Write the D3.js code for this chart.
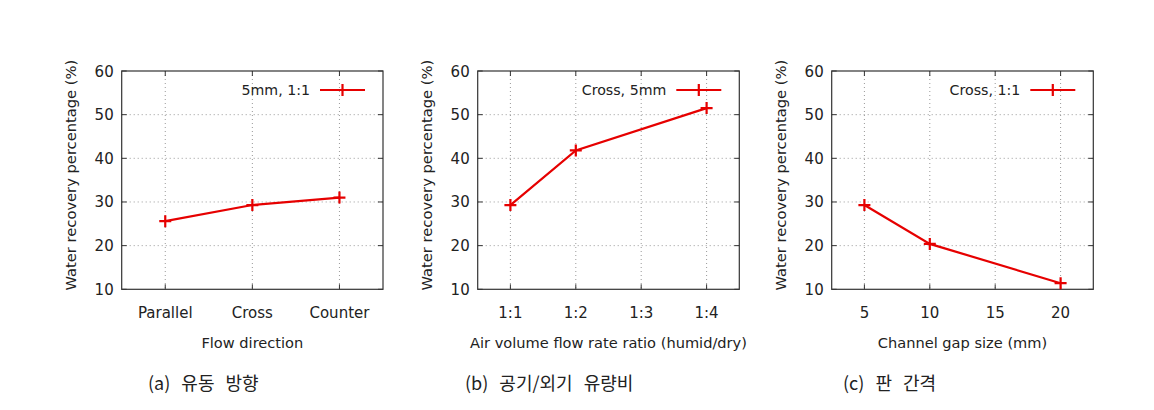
<!DOCTYPE html>
<html>
<head>
<meta charset="utf-8">
<script src="https://cdn.jsdelivr.net/npm/d3@7"></script>
<style>
  body { margin: 0; background: #fff; }
  text { font-family: "DejaVu Sans", sans-serif; fill: #222; }
  .cap { font-family: "Noto Sans CJK KR", sans-serif; word-spacing: 7px; }
</style>
</head>
<body>
<div id="chart"></div>
<script>
// data
var yTicks = [10, 20, 30, 40, 50, 60];

var flowCats = ["Parallel", "Cross", "Counter"];
var flowVals = [25.6, 29.3, 31.0];

var ratioTicks = ["1:1", "1:2", "1:3", "1:4"];
var ratioX = [1, 2, 4];
var ratioVals = [29.3, 41.8, 51.5];

var gapTicks = [5, 10, 15, 20];
var gapX = [5, 10, 20];
var gapVals = [29.3, 20.4, 11.4];

var W = 1154, H = 410;
var red = "#e60000";

var svg = d3.select("#chart").append("svg")
  .attr("width", W).attr("height", H);

var plotTop = 71, plotBottom = 289.3;

var panels = [
  { left: 121.7, right: 383, dom: [-0.5, 2.5], ticks: [0, 1, 2], tickLabel: function(d) { return flowCats[d]; },
    xs: [0, 1, 2], ys: flowVals, legend: "5mm, 1:1", xlabel: "Flow direction", caption: "(a) 유동 방향", capX: 148 },
  { left: 477.7, right: 739.3, dom: [0.5, 4.5], ticks: [1, 2, 3, 4], tickLabel: function(d) { return ratioTicks[d - 1]; },
    xs: ratioX, ys: ratioVals, legend: "Cross, 5mm", xlabel: "Air volume flow rate ratio (humid/dry)", caption: "(b) 공기/외기 유량비", capX: 465 },
  { left: 831.7, right: 1093.3, dom: [2.5, 22.5], ticks: gapTicks, tickLabel: function(d) { return d; },
    xs: gapX, ys: gapVals, legend: "Cross, 1:1", xlabel: "Channel gap size (mm)", caption: "(c) 판 간격", capX: 843 }
];

var y = d3.scaleLinear().domain([10, 60]).range([plotBottom, plotTop]);

panels.forEach(function(p) {
  var x = d3.scaleLinear().domain(p.dom).range([p.left, p.right]);
  var g = svg.append("g");

  //grid
  g.selectAll("line.gy").data(yTicks.slice(1, -1)).enter().append("line")
    .attr("x1", p.left).attr("x2", p.right)
    .attr("y1", function(d) { return y(d); }).attr("y2", function(d) { return y(d); })
    .attr("stroke", "#999").attr("stroke-width", 1).attr("stroke-dasharray", "1,3");
  g.selectAll("line.gx").data(p.ticks).enter().append("line")
    .attr("x1", function(d) { return x(d); }).attr("x2", function(d) { return x(d); })
    .attr("y1", plotTop).attr("y2", plotBottom)
    .attr("stroke", "#999").attr("stroke-width", 1).attr("stroke-dasharray", "1,3");

  //inward ticks on all four sides
  yTicks.forEach(function(d) {
    g.append("line").attr("x1", p.left).attr("x2", p.left + 5).attr("y1", y(d)).attr("y2", y(d)).attr("stroke", "#333");
    g.append("line").attr("x1", p.right).attr("x2", p.right - 5).attr("y1", y(d)).attr("y2", y(d)).attr("stroke", "#333");
  });
  p.ticks.forEach(function(d) {
    g.append("line").attr("x1", x(d)).attr("x2", x(d)).attr("y1", plotBottom).attr("y2", plotBottom - 5).attr("stroke", "#333");
    g.append("line").attr("x1", x(d)).attr("x2", x(d)).attr("y1", plotTop).attr("y2", plotTop + 5).attr("stroke", "#333");
  });

  g.append("rect").attr("x", p.left).attr("y", plotTop)
    .attr("width", p.right - p.left).attr("height", plotBottom - plotTop)
    .attr("fill", "none").attr("stroke", "#333").attr("stroke-width", 1.2);

  //tick labels
  g.selectAll("text.yt").data(yTicks).enter().append("text")
    .attr("x", p.left - 8).attr("y", function(d) { return y(d) + 5.5; })
    .attr("text-anchor", "end").attr("font-size", 15).text(function(d) { return d; });
  g.selectAll("text.xt").data(p.ticks).enter().append("text")
    .attr("x", function(d) { return x(d); }).attr("y", 318)
    .attr("text-anchor", "middle").attr("font-size", 15).text(p.tickLabel);

  //axis titles
  g.append("text")
    .attr("transform", "translate(" + (p.left - 46) + "," + ((plotTop + plotBottom) / 2 - 5) + ") rotate(-90)")
    .attr("text-anchor", "middle").attr("font-size", 14.7).text("Water recovery percentage (%)");
  g.append("text")
    .attr("x", (p.left + p.right) / 2).attr("y", 348)
    .attr("text-anchor", "middle").attr("font-size", 14.6).text(p.xlabel);

  //series
  var pts = p.xs.map(function(d, i) { return [x(d), y(p.ys[i])]; });
  g.append("path").attr("d", d3.line()(pts))
    .attr("fill", "none").attr("stroke", red).attr("stroke-width", 2.2);
  g.selectAll("path.pt").data(pts).enter().append("path")
    .attr("d", function(d) { return "M" + (d[0] - 6) + "," + d[1] + "H" + (d[0] + 6) + "M" + d[0] + "," + (d[1] - 6) + "V" + (d[1] + 6); })
    .attr("stroke", red).attr("stroke-width", 2.2);

  //legend
  var lx1 = p.right - 63, lx2 = p.right - 18, ly = 90;
  g.append("text").attr("x", lx1 - 10).attr("y", ly + 5)
    .attr("text-anchor", "end").attr("font-size", 14.2).text(p.legend);
  g.append("line").attr("x1", lx1).attr("x2", lx2).attr("y1", ly).attr("y2", ly)
    .attr("stroke", red).attr("stroke-width", 2.2);
  var lm = (lx1 + lx2) / 2;
  g.append("path").attr("d", "M" + (lm - 6) + "," + ly + "H" + (lm + 6) + "M" + lm + "," + (ly - 6) + "V" + (ly + 6))
    .attr("stroke", red).attr("stroke-width", 2.2);

  //caption
  g.append("text").attr("class", "cap").attr("x", p.capX).attr("y", 390)
    .attr("font-size", 18).text(p.caption);
});
</script>
</body>
</html>
